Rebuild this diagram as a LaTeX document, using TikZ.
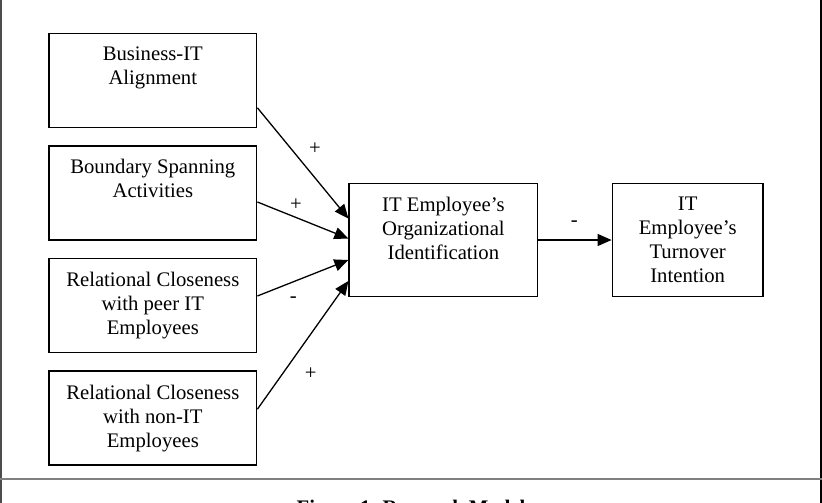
\documentclass[tikz,border=0pt]{standalone}
\usepackage{fontspec}
\setmainfont{Liberation Serif}
\usetikzlibrary{arrows.meta}
\begin{document}
\begin{tikzpicture}[x=1pt,y=-1pt,
  mainfont/.style={font=\fontsize{20.7}{24}\selectfont},
  srcbox/.style={draw=black, line width=1.5pt, minimum width=207.7pt, minimum height=94pt, inner sep=0pt},
  bigbox/.style={draw=black, line width=1.5pt, minimum height=113.4pt, inner sep=0pt},
  boxtext/.style={mainfont, anchor=north, align=center, inner sep=0pt},
  lbl/.style={mainfont, inner sep=0pt},
  arr/.style={line width=1.3pt, -{Triangle[length=14pt,width=12pt]}}]
\useasboundingbox (0,0) rectangle (822,503);
\clip (0,0) rectangle (822,503);
% frame
\draw[gray!60!black, line width=1.3pt] (1,0) -- (1,503);
\draw[black, line width=2pt] (821,0) -- (821,503);
\draw[gray, line width=2.2pt] (0,479) -- (822,479);
% boxes
\node[srcbox] (b1) at (152.8,80.3) {};
\node[boxtext] (t1) at ([yshift=-14pt]b1.north) {Business-IT\\Alignment};
\node[srcbox] (b2) at (152.8,193) {};
\node[boxtext] (t2) at ([yshift=-14pt]b2.north) {Boundary Spanning\\Activities};
\node[srcbox] (b3) at (152.8,305.3) {};
\node[boxtext] (t3) at ([yshift=-14pt]b3.north) {Relational Closeness\\with peer IT\\Employees};
\node[srcbox] (b4) at (152.8,418.2) {};
\node[boxtext] (t4) at ([yshift=-14pt]b4.north) {Relational Closeness\\with non-IT\\Employees};
\node[bigbox, minimum width=188.5pt] (mid) at (443.4,240) {};
\node[boxtext] (tm) at ([yshift=-14pt]mid.north) {IT Employee's\\Organizational\\Identification};
\node[bigbox, minimum width=150.7pt] (out) at (687.7,240) {};
\node[boxtext] (to) at ([yshift=-14pt]out.north) {IT\\Employee's\\Turnover\\Intention};
% connectors
\draw[arr] ([yshift=-27.5pt]b1.east) -- ([yshift=21.5pt]mid.west);
\draw[arr] ([yshift=-9pt]b2.east) -- ([yshift=1.5pt]mid.west);
\draw[arr] ([yshift=9.3pt]b3.east) -- ([yshift=-20pt]mid.west);
\draw[arr] ([yshift=9pt]b4.east) -- ([yshift=-41pt]mid.west);
\draw[arr] (mid.east) -- (out.west);
% labels
\node[lbl] (l1) at (315,149) {+};
\node[lbl] (l2) at (296,205) {+};
\node[lbl] (l3) at (293.3,299.3) {-};
\node[lbl] (l4) at (310.7,374) {+};
\node[lbl] (l5) at (574.3,224) {-};
% caption
\node[font=\bfseries\fontsize{20.7}{24}\selectfont, anchor=base, inner sep=0pt] (cap) at (411,514) {Figure 1. Research Model};
\end{tikzpicture}
\end{document}
